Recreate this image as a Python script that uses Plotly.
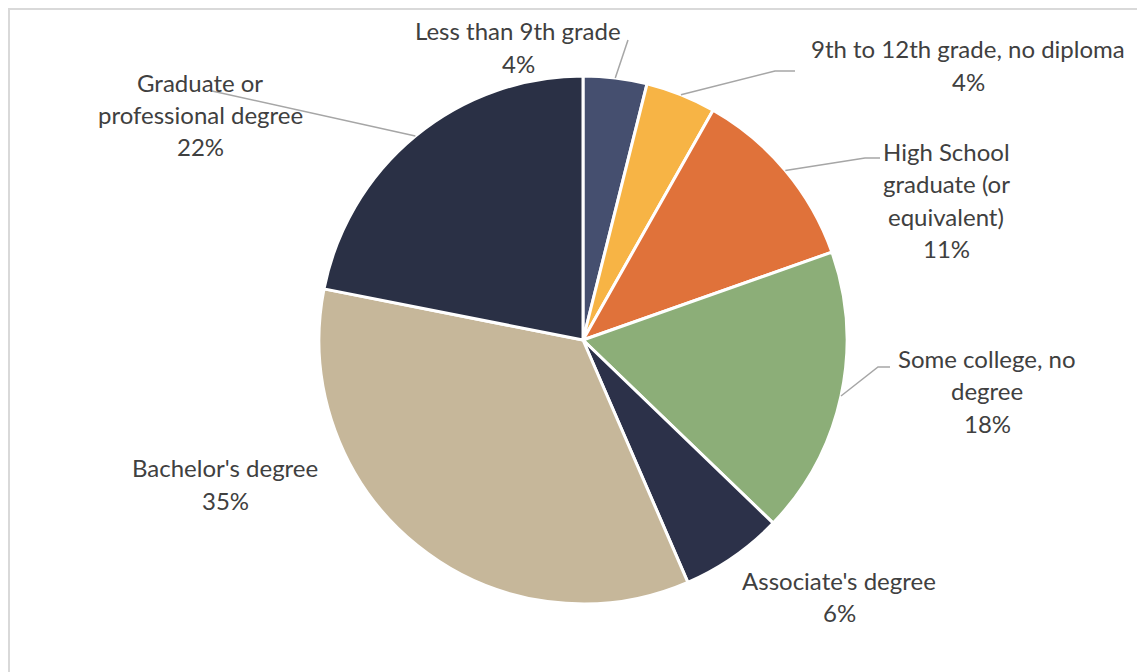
import math
import plotly.graph_objects as go

# data
categories = [
    "Less than 9th grade",
    "9th to 12th grade, no diploma",
    "High School graduate (or equivalent)",
    "Some college, no degree",
    "Associate's degree",
    "Bachelor's degree",
    "Graduate or professional degree",
]
shares = [3.9, 4.3, 11.4, 17.6, 6.3, 34.6, 21.9]
colors = ["#454F6F", "#F7B445", "#E0723A", "#8CAE78", "#2C3149", "#C6B79A", "#2A3045"]

# label text broken the way the reference wraps it
label_lines = [
    ["Less than 9th grade"],
    ["9th to 12th grade, no diploma"],
    ["High School", "graduate (or", "equivalent)"],
    ["Some college, no", "degree"],
    ["Associate's degree"],
    ["Bachelor's degree"],
    ["Graduate or", "professional degree"],
]

# page body has an 8px margin, so the figure is a bit smaller than the window
OFF = 8
W, H = 1145 - OFF, 672 - OFF
CX, CY, R = 583, 340, 264          # pie centre / radius in window px
LINE_H = 32.5

# label block anchors (centre x, first-line centre y) and leader elbows, in window px
label_anchor = [(518, 31), (968, 49), (946, 151), (987, 358), (839, 580), (225, 468), (200, 82)]
leader_pts = [
    [(628, 40)],
    [(775, 71), (795, 71)],
    [(865, 158), (880, 158)],
    [(878, 367), (890, 367)],
    None,
    None,
    [(212, 91)],
]

def px(x):
    return (x - OFF) / W

def py(y):
    return 1 - (y - OFF) / H

fig = go.Figure(go.Pie(
    labels=categories,
    values=shares,
    sort=False,
    direction="clockwise",
    rotation=0,
    marker=dict(colors=colors, line=dict(color="white", width=3)),
    textinfo="none",
    hoverinfo="skip",
    showlegend=False,
    domain=dict(x=[px(CX - R), px(CX + R)], y=[py(CY + R), py(CY - R)]),
))

total = sum(shares)
cum = 0
shapes = []
annotations = []
font = dict(family="Lato, Noto Sans, sans-serif", size=24, color="#404040")
for i, v in enumerate(shares):
    mid = (cum + v / 2) / total * 2 * math.pi
    cum += v
    pct = f"{round(v / total * 100)}%"
    lines = label_lines[i] + [pct]
    ax, ay = label_anchor[i]
    for j, t in enumerate(lines):
        annotations.append(dict(
            x=px(ax), y=py(ay + j * LINE_H), xref="paper", yref="paper",
            text=t, showarrow=False, xanchor="center", yanchor="middle", font=font,
        ))
    if leader_pts[i]:
        sx = CX + R * math.sin(mid)
        sy = CY - R * math.cos(mid)
        pts = [(sx, sy)] + leader_pts[i]
        path = "M " + " L ".join(f"{px(a):.5f},{py(b):.5f}" for a, b in pts)
        shapes.append(dict(type="path", path=path, xref="paper", yref="paper",
                           line=dict(color="#A6A6A6", width=1.5)))

# chart frame (left and top edges visible)
shapes.append(dict(type="rect", xref="paper", yref="paper",
                   x0=px(9), x1=1.02, y0=-0.02, y1=py(9),
                   line=dict(color="#D9D9D9", width=2), layer="below"))

fig.update_layout(
    width=W, height=H,
    margin=dict(l=0, r=0, t=0, b=0),
    paper_bgcolor="white",
    plot_bgcolor="white",
    shapes=shapes,
    annotations=annotations,
)

fig.write_html("out.html")
